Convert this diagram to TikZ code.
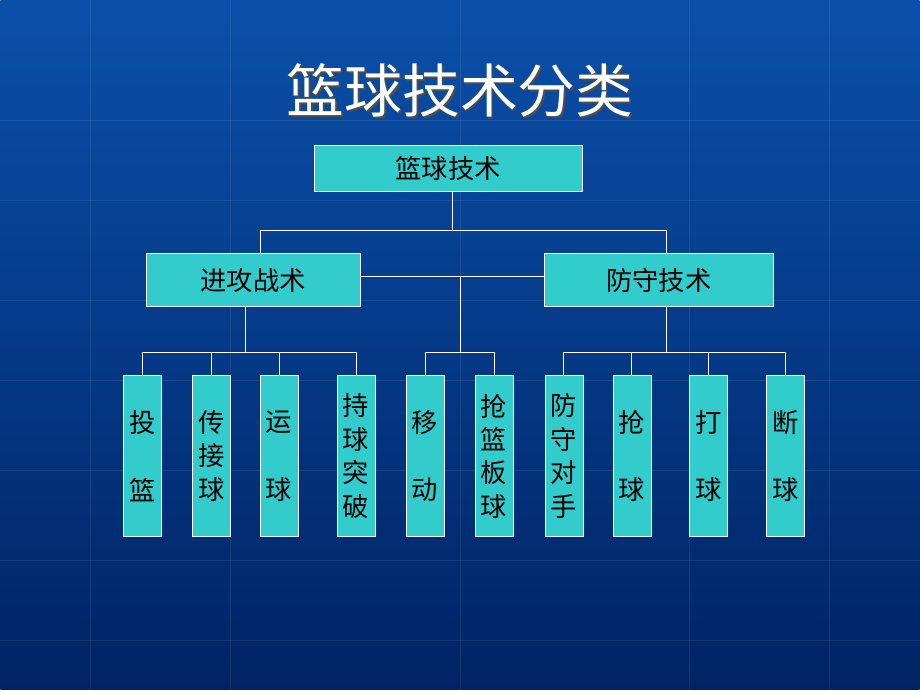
\documentclass[tikz,border=0pt]{standalone}
\usepackage{fontspec}
\newfontfamily\cjk{Noto Sans CJK SC}
\usetikzlibrary{positioning}
\definecolor{boxfill}{RGB}{51,204,204}
\definecolor{bgtop}{RGB}{10,80,170}
\definecolor{bgbot}{RGB}{0,35,100}
\tikzset{topbox/.style={rectangle, draw=white, fill=boxfill, minimum width=5.36cm, minimum height=0.92cm, font=\cjk\fontsize{15}{18}\selectfont},
         midbox/.style={rectangle, draw=white, fill=boxfill, minimum width=4.4cm, minimum height=1.06cm, font=\cjk\fontsize{15}{18}\selectfont},
         leafbox/.style={rectangle, draw=white, fill=boxfill, minimum width=0.76cm, minimum height=3.22cm, inner sep=0pt, font=\cjk\fontsize{15}{19}\selectfont, align=center},
         link/.style={draw=white, line width=0.5pt}}
\begin{document}
\begin{tikzpicture}[x=0.02cm, y=-0.02cm]
        \shade[top color=bgtop, bottom color=bgbot] (0,0) rectangle (920,690);
        \foreach \y in {120,200,300,380,470,560,640}
            \draw[white, opacity=0.08] (0,\y) -- (920,\y);
        \foreach \x in {90,230,460,690,830}
            \draw[white, opacity=0.08] (\x,0) -- (\x,690);
        \node (shadow) at (462,92) [text=black!70, font=\cjk\fontsize{33}{36}\selectfont] {篮球技术分类};
        \node (title) at (460,90) [text=white, font=\cjk\fontsize{33}{36}\selectfont] {篮球技术分类};
        \node (root)[topbox] at (448,168) {篮球技术};
        \node (attack)[midbox, minimum width=4.28cm] at (253,280) {进攻战术};
        \node (defend)[midbox, minimum width=4.6cm] at (659,280) {防守技术};
        \node (l1)[leafbox] at (142,456) {投\\[1.3em]篮};
        \node (l2)[leafbox] at (211,456) {传\\接\\球};
        \node (l3)[leafbox] at (279,456) {运\\[1.3em]球};
        \node (l4)[leafbox] at (356,456) {持\\球\\突\\破};
        \node (l5)[leafbox] at (425,456) {移\\[1.3em]动};
        \node (l6)[leafbox] at (494,456) {抢\\篮\\板\\球};
        \node (l7)[leafbox] at (564,456) {防\\守\\对\\手};
        \node (l8)[leafbox] at (632,456) {抢\\[1.3em]球};
        \node (l9)[leafbox] at (709,456) {打\\[1.3em]球};
        \node (l10)[leafbox] at (786,456) {断\\[1.3em]球};
        % upper tree
        \coordinate (split) at (452,230);
        \coordinate (mid) at (0,276);
        \coordinate (bar) at (0,352);
        \draw[link] (root.south -| split) -- (split);
        \draw[link] (260,230) -- (667,230);
        \draw[link] (260,230) -- (260,253);
        \draw[link] (667,230) -- (667,253);
        \draw[link] (attack.east |- mid) -- (defend.west |- mid);
        % lower groups
        \draw[link] (245,306) -- (245,352);
        \draw[link] (l1.north |- bar) -- (l4.north |- bar);
        \foreach \n in {l1,l2,l3,l4,l5,l6,l7,l8,l9,l10}
            \draw[link] (\n.north) -- (\n.north |- bar);
        \draw[link] (460,276) -- (460,352);
        \draw[link] (l5.north |- bar) -- (l6.north |- bar);
        \draw[link] (667,306) -- (667,352);
        \draw[link] (l7.north |- bar) -- (l10.north |- bar);
    \end{tikzpicture}
\end{document}
